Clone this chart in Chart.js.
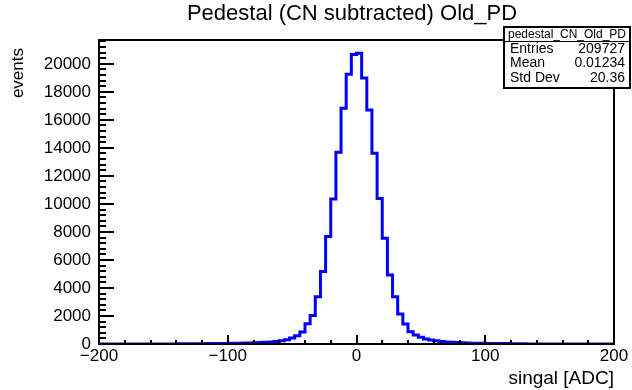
<!DOCTYPE html>
<html>
<head>
<meta charset="utf-8">
<script src="https://cdn.jsdelivr.net/npm/chart.js@4/dist/chart.umd.min.js"></script>
<style>
  html, body { margin: 0; padding: 0; background: #fff; }
  #wrap { width: 632px; height: 390px; }
</style>
</head>
<body>
<div id="wrap"><canvas id="histo" width="632" height="390"></canvas></div>
<script>
// histogram: 100 bins of width 4 from -200 to 200
const binMin = -200;
const binWidth = 4;
const counts = [
  // -200 .. -132
  0, 0, 0, 1, 0, 1, 1, 2, 2, 3, 3, 4, 5, 6, 8, 10, 12, 15,
  // -128 .. -4
  18, 22, 26, 30, 34, 38, 42, 48, 54, 60, 68, 78, 90, 105, 125, 150,
  185, 230, 300, 420, 580, 850, 1440, 2030, 3380, 5170, 7670, 10350,
  13690, 16830, 19260, 20660,
  // 0 .. 196
  20760, 18980, 16710, 13620, 10380, 7550, 4930, 3380, 2140, 1430,
  880, 640, 480, 360, 290, 230, 180, 145, 120, 100,
  85, 72, 62, 54, 48, 42, 38, 34, 30, 27,
  24, 21, 15, 8, 6, 5, 4, 3, 3, 2,
  2, 1, 1, 1, 0, 1, 0, 0, 0, 0
];
const xMajorTicks = [-200, -100, 0, 100, 200];
const yMajorTicks = [0, 2000, 4000, 6000, 8000, 10000, 12000, 14000, 16000, 18000, 20000];
const xMinorStep = 20;
const yMinorStep = 400;
const yMax = 21700;

const statsName = 'pedestal_CN_Old_PD';
const statsLabels = ['Entries', 'Mean', 'Std Dev'];
const statsValues = ['209727', '0.01234', '20.36'];

const FONT = "'Liberation Sans', Arial, sans-serif";

// outline points: lower edge of every bin, plus the upper edge of the last one
const points = counts.map((c, i) => ({ x: binMin + i * binWidth, y: c }));
points.push({ x: binMin + counts.length * binWidth, y: counts[counts.length - 1] });

const minus = v => (v < 0 ? '\u2212' + Math.abs(v) : String(v));

const rootFrame = {
  id: 'rootFrame',
  afterDatasetsDraw(chart) {
    const ctx = chart.ctx;
    const a = chart.chartArea;
    const xs = chart.scales.x, ys = chart.scales.y;
    ctx.save();
    ctx.strokeStyle = '#000';
    ctx.lineWidth = 2;
    ctx.strokeRect(a.left, a.top, a.right - a.left, a.bottom - a.top);

    // ticks pointing into the frame
    ctx.beginPath();
    for (let v = xs.min; v <= xs.max; v += xMinorStep) {
      const px = Math.round(xs.getPixelForValue(v));
      const len = xMajorTicks.includes(v) ? 9 : 4;
      ctx.moveTo(px, a.bottom);
      ctx.lineTo(px, a.bottom - len);
    }
    for (let v = 0; v <= ys.max; v += yMinorStep) {
      const py = Math.round(ys.getPixelForValue(v));
      const len = yMajorTicks.includes(v) ? 15 : 7;
      ctx.moveTo(a.left, py);
      ctx.lineTo(a.left + len, py);
    }
    ctx.stroke();

    // title + axis titles
    ctx.fillStyle = '#000';
    ctx.font = '22px ' + FONT;
    ctx.textAlign = 'center';
    ctx.textBaseline = 'middle';
    ctx.fillText('Pedestal (CN subtracted) Old_PD', 352, 14);

    ctx.font = '19px ' + FONT;
    ctx.textAlign = 'right';
    ctx.fillText('singal [ADC]', a.right, 379);

    ctx.font = '17px ' + FONT;
    ctx.translate(18, a.top);
    ctx.rotate(-Math.PI / 2);
    ctx.textAlign = 'right';
    ctx.fillText('events', -8, 0);
    ctx.restore();
  },
  afterDraw(chart) {
    // stats box
    const ctx = chart.ctx;
    const bx = 504, by = 27, bw = 126, bh = 61;
    ctx.save();
    ctx.fillStyle = '#fff';
    ctx.fillRect(bx, by, bw, bh);
    ctx.strokeStyle = '#000';
    ctx.lineWidth = 2;
    ctx.strokeRect(bx, by, bw, bh);
    ctx.lineWidth = 1;
    ctx.beginPath();
    ctx.moveTo(bx, by + 14.5);
    ctx.lineTo(bx + bw, by + 14.5);
    ctx.stroke();

    ctx.fillStyle = '#000';
    ctx.textBaseline = 'middle';
    ctx.font = '12px ' + FONT;
    ctx.textAlign = 'center';
    ctx.fillText(statsName, bx + bw / 2, by + 7.5);
    ctx.font = '14px ' + FONT;
    statsLabels.forEach((lab, i) => {
      const y = by + 22 + i * 14.5;
      ctx.textAlign = 'left';
      ctx.fillText(lab, bx + 6, y);
      ctx.textAlign = 'right';
      ctx.fillText(statsValues[i], bx + bw - 5, y);
    });
    ctx.restore();
  }
};

new Chart(document.getElementById('histo'), {
  type: 'line',
  data: {
    datasets: [{
      data: points,
      stepped: true,
      borderColor: '#0000ff',
      borderWidth: 3,
      pointRadius: 0,
      fill: false
    }]
  },
  options: {
    responsive: false,
    animation: false,
    events: [],
    layout: { padding: { top: 40, right: 18, left: 0, bottom: 0 } },
    plugins: { legend: { display: false }, tooltip: { enabled: false }, title: { display: false } },
    scales: {
      x: {
        type: 'linear',
        min: -200,
        max: 200,
        grid: { display: false, drawTicks: false },
        border: { display: false },
        afterBuildTicks: s => { s.ticks = xMajorTicks.map(v => ({ value: v })); },
        afterFit: s => { s.height = 46; },
        ticks: {
          padding: 2,
          maxRotation: 0,
          autoSkip: false,
          color: '#000',
          font: { family: FONT, size: 17 },
          callback: v => minus(v)
        }
      },
      y: {
        type: 'linear',
        min: 0,
        max: yMax,
        grid: { display: false, drawTicks: false },
        border: { display: false },
        afterBuildTicks: s => { s.ticks = yMajorTicks.map(v => ({ value: v })); },
        afterFit: s => { s.width = 99; },
        ticks: {
          padding: 8,
          autoSkip: false,
          color: '#000',
          font: { family: FONT, size: 17 },
          callback: v => String(v)
        }
      }
    }
  },
  plugins: [rootFrame]
});
</script>
</body>
</html>
